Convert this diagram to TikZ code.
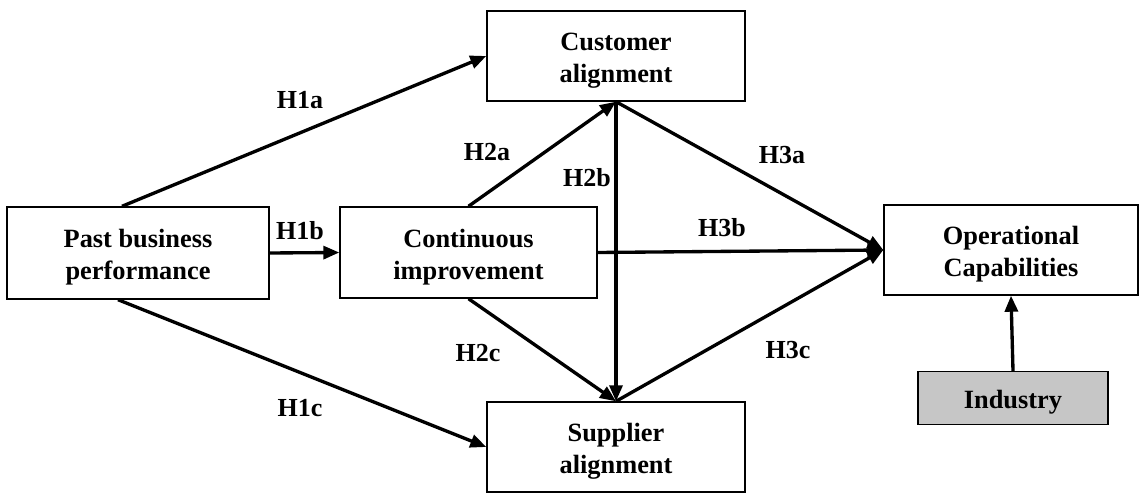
\documentclass[tikz,border=0pt]{standalone}
\usepackage{fontspec}
\setmainfont{Liberation Serif}
\usepackage{tikz}
\usetikzlibrary{arrows.meta,positioning,calc}

\tikzset{
  construct/.style={draw, line width=0.8pt, fill=white, align=center,
                    font=\fontsize{15}{18.2}\selectfont\bfseries, inner sep=2pt,
                    text height=1.18cm},
  path/.style={-{Triangle[length=3.2mm,width=2.6mm]}, line width=1.9pt},
  hyp/.style={font=\fontsize{14.8}{16}\selectfont\bfseries}
}

\begin{document}
\begin{tikzpicture}
        \useasboundingbox (0,0) rectangle (22.8,9.9);
        \node[construct, minimum width=5.24cm, minimum height=1.84cm] (past) at (2.76,4.84)
              {Past business\\performance};
        \node[construct, minimum width=5.14cm, minimum height=1.82cm] (ci) at (9.37,4.85)
              {Continuous\\improvement};
        \node[construct, minimum width=5.16cm, minimum height=1.8cm] (cust) at (12.32,8.78)
              {Customer\\alignment};
        \node[construct, minimum width=5.16cm, minimum height=1.8cm] (supp) at (12.32,0.96)
              {Supplier\\alignment};
        \node[construct, minimum width=5.08cm, minimum height=1.8cm] (oc) at (20.22,4.9)
              {Operational\\Capabilities};
        \node[construct, fill=gray!45, text height=0.54cm, minimum width=3.8cm, minimum height=1.06cm] (ind) at (20.26,1.94)
              {Industry};
        % hypothesised paths
        \draw[path] ([xshift=-0.32cm]past.north) -- (cust.west);
        \draw[path] (past.east) -- (ci.west);
        \draw[path] ([xshift=-0.4cm]past.south) -- (supp.west);
        \draw[path] (ci.north) -- (cust.south);
        \draw[path] (cust.south) -- (supp.north);
        \draw[path] (ci.south) -- (supp.north);
        \draw[path] (cust.south) -- (oc.west);
        \draw[path] (ci.east) -- (oc.west);
        \draw[path] (supp.north) -- (oc.west);
        \draw[path] (ind.north) -- (oc.south);
        % labels
        \node[hyp] (lH1a) at (6.0,7.9) {H1a};
        \node[hyp] (lH1b) at (6.0,5.28) {H1b};
        \node[hyp] (lH1c) at (6.0,1.74) {H1c};
        \node[hyp] (lH2a) at (9.74,6.86) {H2a};
        \node[hyp] (lH2b) at (11.74,6.34) {H2b};
        \node[hyp] (lH2c) at (9.56,2.84) {H2c};
        \node[hyp] (lH3a) at (15.64,6.8) {H3a};
        \node[hyp] (lH3b) at (14.44,5.34) {H3b};
        \node[hyp] (lH3c) at (15.76,2.9) {H3c};
\end{tikzpicture}
\end{document}
